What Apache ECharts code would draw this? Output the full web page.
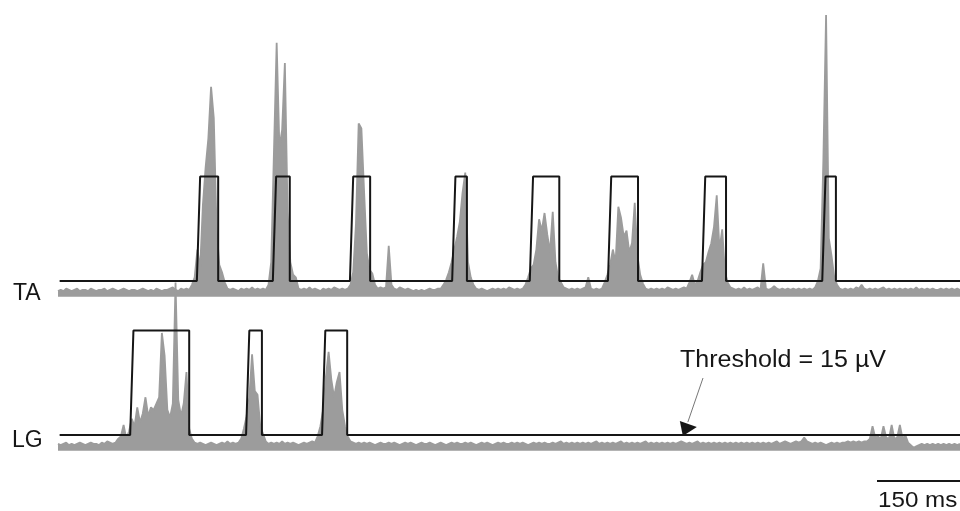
<!DOCTYPE html>
<html><head><meta charset="utf-8">
<script src="https://cdn.jsdelivr.net/npm/echarts@6/dist/echarts.min.js"></script>
<style>html,body{margin:0;padding:0;background:#fff;}#c{width:960px;height:511px;}</style>
</head><body><div id="c"></div>
<script>
// ---- data ----
const SAMPLE_MS = 5;          // one value every 5 ms
const TIME_MAX = 1650;        // ms shown
const THRESHOLD = 15;         // µV
const ON_LEVEL = 98;          // level of the detection trace when "on"
const RISE_MS = 6;
const SCALE_BAR_MS = 150;
const TRACE_LABELS = ['TA', 'LG'];
const THRESHOLD_LABEL = 'Threshold = 15 µV';
const SCALE_LABEL = '150 ms';

// rectified EMG envelope, TA (µV)
const TA_VALUES = [
  7, 8, 7, 9, 8, 7, 8, 9, 7, 8,
  8, 7, 9, 8, 7, 8, 8, 9, 7, 8,
  9, 8, 7, 8, 9, 8, 7, 8, 8, 7,
  8, 9, 8, 7, 8, 7, 9, 8, 7, 8,
  8, 9, 10, 8, 7, 9, 8, 9, 8, 12,
  18, 40, 25, 75, 105, 128, 169, 144, 58, 28,
  22, 14, 9, 8, 9, 8, 7, 9, 8, 9,
  8, 10, 8, 9, 8, 9, 8, 12, 30, 117,
  204, 121, 135, 188, 70, 30, 20, 18, 9, 8,
  9, 8, 10, 8, 9, 8, 7, 9, 8, 9,
  8, 10, 9, 8, 9, 8, 9, 12, 22, 60,
  140, 136, 85, 37, 24, 21, 12, 9, 10, 9,
  10, 43, 12, 9, 8, 10, 9, 8, 9, 8,
  7, 8, 7, 8, 7, 8, 9, 8, 8, 9,
  9, 12, 16, 22, 30, 40, 50, 62, 85, 101,
  30, 18, 12, 9, 8, 9, 8, 7, 8, 9,
  8, 9, 8, 9, 8, 10, 9, 8, 9, 8,
  9, 12, 18, 25, 28, 40, 64, 55, 69, 52,
  38, 70, 30, 18, 14, 10, 9, 8, 9, 8,
  9, 8, 9, 10, 18, 9, 8, 9, 8, 9,
  14, 20, 28, 40, 30, 74, 65, 50, 55, 38,
  45, 77, 35, 20, 13, 9, 8, 9, 8, 9,
  8, 9, 8, 10, 9, 8, 9, 8, 9, 10,
  9, 14, 20, 12, 15, 22, 28, 30, 38, 45,
  58, 83, 40, 56, 22, 14, 10, 9, 8, 9,
  8, 10, 8, 9, 8, 9, 10, 8, 29, 9,
  8, 9, 11, 9, 8, 9, 8, 9, 8, 9,
  8, 9, 8, 9, 8, 9, 8, 10, 15, 25,
  110, 226, 49, 35, 18, 12, 9, 8, 9, 8,
  9, 8, 10, 9, 12, 9, 8, 9, 8, 9,
  8, 9, 10, 8, 9, 8, 9, 8, 9, 8,
  9, 8, 9, 8, 10, 8, 9, 8, 9, 8,
  9, 8, 8, 9, 8, 9, 8, 9, 8, 9,
  8
];

// rectified EMG envelope, LG (µV)
const LG_VALUES = [
  8, 7, 8, 9, 7, 8, 7, 8, 9, 8,
  7, 8, 9, 8, 8, 7, 9, 8, 10, 9,
  8, 9, 12, 14, 23, 12, 18, 28, 22, 37,
  25, 32, 45, 30, 37, 35, 40, 45, 96, 78,
  35, 29, 40, 136, 43, 30, 40, 65, 20, 12,
  9, 8, 9, 8, 7, 8, 9, 8, 7, 8,
  9, 8, 10, 8, 9, 8, 9, 12, 20, 30,
  45, 79, 50, 47, 22, 16, 10, 8, 9, 8,
  9, 8, 10, 8, 9, 8, 9, 8, 7, 8,
  9, 8, 9, 10, 9, 14, 22, 35, 61, 81,
  59, 45, 57, 65, 35, 22, 14, 10, 9, 8,
  9, 8, 9, 8, 9, 8, 7, 8, 9, 8,
  8, 9, 8, 9, 8, 7, 8, 9, 8, 9,
  8, 7, 8, 9, 8, 8, 9, 8, 7, 8,
  9, 8, 7, 8, 9, 8, 9, 8, 8, 9,
  8, 9, 8, 7, 8, 9, 8, 9, 8, 7,
  8, 9, 8, 9, 8, 8, 9, 8, 9, 8,
  9, 8, 7, 8, 9, 8, 9, 8, 9, 8,
  8, 9, 8, 9, 10, 8, 9, 8, 9, 8,
  9, 8, 9, 8, 9, 8, 9, 10, 8, 9,
  8, 9, 8, 9, 8, 9, 10, 8, 9, 8,
  9, 8, 9, 8, 9, 10, 8, 9, 8, 9,
  8, 9, 8, 9, 8, 9, 8, 9, 10, 9,
  8, 9, 8, 9, 10, 8, 9, 8, 9, 8,
  9, 8, 9, 8, 9, 8, 9, 8, 9, 8,
  9, 8, 9, 8, 9, 8, 9, 8, 9, 8,
  9, 8, 9, 10, 8, 9, 10, 9, 8, 9,
  10, 9, 10, 13, 10, 9, 8, 9, 8, 9,
  8, 7, 8, 9, 8, 9, 8, 9, 9, 10,
  9, 10, 9, 10, 9, 10, 10, 12, 22, 13,
  14, 12, 22, 13, 12, 23, 12, 13, 23, 12,
  15, 9, 7, 5, 6, 7, 8, 7, 8, 7,
  8, 7, 8, 7, 8, 7, 8, 7, 8, 7,
  8
];

// burst detection (ms): onsets and offsets
const TA_ON  = [254, 393, 534, 721, 863, 1006, 1178, 1398];
const TA_OFF = [293, 424, 571, 748, 917, 1061, 1222, 1423];
const LG_ON  = [132, 344, 483];
const LG_OFF = [240, 373, 529];

// ---- build ----
function toSeries(vals) { return vals.map((v, i) => [i * SAMPLE_MS, v]); }
function detection(on, off) {
  const pts = [[3, THRESHOLD]];
  on.forEach((t, k) => {
    pts.push([t, THRESHOLD], [t + RISE_MS, ON_LEVEL], [off[k], ON_LEVEL], [off[k], THRESHOLD]);
  });
  pts.push([TIME_MAX, THRESHOLD]);
  return pts;
}

const GRAY = '#9c9c9c';
const INK = '#161616';
const chart = echarts.init(document.getElementById('c'), null, { renderer: 'canvas' });

function emgSeries(idx, vals) {
  return {
    type: 'line', xAxisIndex: idx, yAxisIndex: idx, data: toSeries(vals),
    symbol: 'none', showSymbol: false, sampling: null, z: 1,
    lineStyle: { color: GRAY, width: 1.8 },
    areaStyle: { color: GRAY, opacity: 1, origin: 2.5 }
  };
}
function detSeries(idx, on, off) {
  return {
    type: 'line', xAxisIndex: idx, yAxisIndex: idx, data: detection(on, off),
    symbol: 'none', showSymbol: false, z: 3,
    lineStyle: { color: INK, width: 2 }
  };
}

const option = {
  animation: false,
  backgroundColor: '#fff',
  grid: [
    { left: 58, right: 0, top: 10, height: 290 },
    { left: 58, right: 0, top: 164, height: 290 }
  ],
  xAxis: [0, 1].map(i => ({ type: 'value', gridIndex: i, min: 0, max: TIME_MAX, show: false })),
  yAxis: [0, 1].map(i => ({ type: 'value', gridIndex: i, min: 0, max: 230, show: false })),
  series: [
    emgSeries(0, TA_VALUES), detSeries(0, TA_ON, TA_OFF),
    emgSeries(1, LG_VALUES), detSeries(1, LG_ON, LG_OFF)
  ]
};
chart.setOption(option);

// ---- annotations anchored to the axes ----
const FONT = '"Liberation Sans", Arial, sans-serif';
const taBase = chart.convertToPixel({ gridIndex: 0 }, [0, THRESHOLD]);
const lgBase = chart.convertToPixel({ gridIndex: 1 }, [0, THRESHOLD]);
const tip = chart.convertToPixel({ gridIndex: 1 }, [1143, THRESHOLD]);
const barR = chart.convertToPixel({ gridIndex: 1 }, [TIME_MAX, 0]);
const barL = chart.convertToPixel({ gridIndex: 1 }, [TIME_MAX - SCALE_BAR_MS, 0]);
const barY = 481;

chart.setOption({
  graphic: [
    { type: 'text', x: 13, y: taBase[1] + 24, style: { text: TRACE_LABELS[0], font: '23px ' + FONT, fill: INK, textVerticalAlign: 'bottom' } },
    { type: 'text', x: 12, y: lgBase[1] + 17, style: { text: TRACE_LABELS[1], font: '23px ' + FONT, fill: INK, textVerticalAlign: 'bottom' } },
    { type: 'text', x: 680, y: 372, scaleX: 1.09, style: { text: THRESHOLD_LABEL, font: '23px ' + FONT, fill: INK, textVerticalAlign: 'bottom' } },
    { type: 'line', shape: { x1: 703, y1: 378, x2: tip[0] + 5, y2: tip[1] - 13 }, style: { stroke: '#777', lineWidth: 1 } },
    { type: 'polygon', shape: { points: [[tip[0], tip[1] + 1], [tip[0] - 3, tip[1] - 14], [tip[0] + 14, tip[1] - 8]] }, style: { fill: INK } },
    { type: 'line', shape: { x1: barL[0] - 1, y1: barY, x2: barR[0], y2: barY }, style: { stroke: INK, lineWidth: 2 } },
    { type: 'text', x: 878, y: 512, scaleX: 1.1, style: { text: SCALE_LABEL, font: '22px ' + FONT, fill: INK, textVerticalAlign: 'bottom' } }
  ]
});
</script>
</body></html>
